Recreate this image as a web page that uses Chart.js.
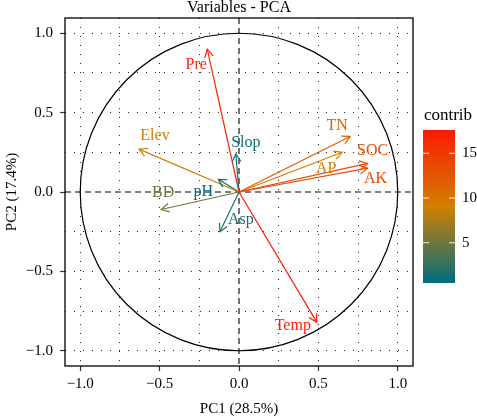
<!DOCTYPE html>
<html>
<head>
<meta charset="utf-8">
<script src="https://cdn.jsdelivr.net/npm/chart.js@4.4.0/dist/chart.umd.min.js"></script>
<style>
  body { margin: 0; background: #fff; }
  canvas { display: block; }
</style>
</head>
<body>
<canvas id="pcaChart" width="477" height="418"></canvas>
<script>
  // variable coordinates on the first two PCs
  const variables = ["Pre", "Elev", "BD", "pH", "Slop", "Asp", "TN", "AP", "SOC", "AK", "Temp"];
  const pc1 = [-0.20, -0.63, -0.49, -0.13, -0.02, -0.12, 0.70, 0.65, 0.81, 0.81, 0.49];
  const pc2 = [0.90, 0.27, -0.11, 0.08, 0.24, -0.25, 0.35, 0.25, 0.18, 0.15, -0.82];
  const contrib = [16.8, 9.3, 5.0, 0.5, 1.2, 1.5, 12.1, 9.6, 13.6, 13.5, 17.6];
  const axisTicks = [-1, -0.75, -0.5, -0.25, 0, 0.25, 0.5, 0.75, 1];
  const legendTicks = [5, 10, 15];

  const serif = "'Liberation Serif', 'DejaVu Serif', serif";
  const gradCols = [[0, 109, 128], [210, 127, 0], [255, 26, 0]];
  const cMin = Math.min(...contrib);
  const cMax = Math.max(...contrib);

  // label nudges in px from the arrow tip
  const labelNudge = {
    Pre: [-11, 16], Elev: [16, -13], BD: [2, -17], pH: [-15, 12], Slop: [10, -11],
    Asp: [21, -12], TN: [-13, -11], AP: [-16, 16], SOC: [5, -13], AK: [8, 11], Temp: [-24, 4]
  };

  function contribColor(v) {
    let t = (v - cMin) / (cMax - cMin);
    t = Math.max(0, Math.min(1, t));
    const seg = t < 0.5 ? 0 : 1;
    const f = seg === 0 ? t / 0.5 : (t - 0.5) / 0.5;
    const a = gradCols[seg], b = gradCols[seg + 1];
    const c = a.map((x, i) => Math.round(x + (b[i] - x) * f));
    return `rgb(${c[0]},${c[1]},${c[2]})`;
  }

  const isMajor = v => Math.abs(v * 2 - Math.round(v * 2)) < 1e-9;
  const fmt = v => (v < 0 ? "\u2212" : "") + Math.abs(v).toFixed(1);

  const datasets = variables.map((name, i) => ({
    label: name,
    data: [{ x: 0, y: 0 }, { x: pc1[i], y: pc2[i] }],
    showLine: true,
    borderColor: contribColor(contrib[i]),
    borderWidth: 1.2,
    pointRadius: 0,
    fill: false
  }));

  const pcaDecor = {
    id: "pcaDecor",
    beforeDatasetsDraw(chart) {
      const { ctx, chartArea: a, scales: { x, y } } = chart;
      ctx.save();
      // dashed zero lines
      ctx.strokeStyle = "#000";
      ctx.lineWidth = 1.1;
      ctx.setLineDash([6, 4]);
      ctx.beginPath();
      ctx.moveTo(a.left, y.getPixelForValue(0));
      ctx.lineTo(a.right, y.getPixelForValue(0));
      ctx.moveTo(x.getPixelForValue(0), a.top);
      ctx.lineTo(x.getPixelForValue(0), a.bottom);
      ctx.stroke();
      // correlation circle
      ctx.setLineDash([]);
      ctx.lineWidth = 1.2;
      const cx = x.getPixelForValue(0), cy = y.getPixelForValue(0);
      const rx = x.getPixelForValue(1) - cx, ry = cy - y.getPixelForValue(1);
      ctx.beginPath();
      ctx.ellipse(cx, cy, rx, ry, 0, 0, Math.PI * 2);
      ctx.stroke();
      ctx.restore();
    },
    afterDatasetsDraw(chart) {
      const { ctx, scales: { x, y } } = chart;
      const ox = x.getPixelForValue(0), oy = y.getPixelForValue(0);
      ctx.save();
      variables.forEach((name, i) => {
        const tx = x.getPixelForValue(pc1[i]), ty = y.getPixelForValue(pc2[i]);
        const ang = Math.atan2(ty - oy, tx - ox);
        const col = contribColor(contrib[i]);
        ctx.strokeStyle = col;
        ctx.lineWidth = 1.2;
        ctx.beginPath();
        ctx.moveTo(tx - 9 * Math.cos(ang - 0.5), ty - 9 * Math.sin(ang - 0.5));
        ctx.lineTo(tx, ty);
        ctx.lineTo(tx - 9 * Math.cos(ang + 0.5), ty - 9 * Math.sin(ang + 0.5));
        ctx.stroke();
        const n = labelNudge[name];
        ctx.fillStyle = col;
        ctx.font = `16px ${serif}`;
        ctx.textAlign = "center";
        ctx.textBaseline = "middle";
        ctx.fillText(name, tx + n[0], ty + n[1]);
      });
      ctx.restore();
    },
    afterDraw(chart) {
      const { ctx, chartArea: a } = chart;
      ctx.save();
      // panel frame
      ctx.strokeStyle = "#000";
      ctx.lineWidth = 1.3;
      ctx.strokeRect(a.left, a.top, a.right - a.left, a.bottom - a.top);
      // title
      ctx.fillStyle = "#000";
      ctx.font = `16px ${serif}`;
      ctx.textAlign = "center";
      ctx.textBaseline = "alphabetic";
      ctx.fillText("Variables - PCA", (a.left + a.right) / 2, 12);
      // colour bar legend
      const bx = 423, bw = 32, bTop = 130, bBot = 283;
      const g = ctx.createLinearGradient(0, bBot, 0, bTop);
      [0, 0.5, 1].forEach((s, k) => g.addColorStop(s, `rgb(${gradCols[k].join(",")})`));
      ctx.fillStyle = g;
      ctx.fillRect(bx, bTop, bw, bBot - bTop);
      ctx.font = `17px ${serif}`;
      ctx.fillStyle = "#000";
      ctx.fillText("contrib", bx + bw / 2 + 9, 120);
      ctx.font = `15px ${serif}`;
      ctx.textAlign = "left";
      ctx.textBaseline = "middle";
      legendTicks.forEach(v => {
        const py = bBot - (v - cMin) / (cMax - cMin) * (bBot - bTop);
        ctx.strokeStyle = "rgba(255,255,255,0.9)";
        ctx.lineWidth = 1;
        ctx.beginPath();
        ctx.moveTo(bx, py); ctx.lineTo(bx + 6, py);
        ctx.moveTo(bx + bw - 6, py); ctx.lineTo(bx + bw, py);
        ctx.stroke();
        ctx.fillText(String(v), bx + bw + 7, py);
      });
      ctx.restore();
    }
  };

  function axisOpts(titleText, isX) {
    return {
      type: "linear",
      min: -1.096,
      max: 1.096,
      afterBuildTicks: s => { s.ticks = axisTicks.map(v => ({ value: v })); },
      afterFit: s => { if (isX) s.height = 52; else s.width = 65; },
      grid: {
        color: c => (c.tick && c.tick.value === 0) ? "rgba(0,0,0,0)" : "#222",
        lineWidth: 1,
        tickLength: 5,
        tickWidth: 1.2,
        tickColor: c => (c.tick && isMajor(c.tick.value)) ? "#333" : "rgba(0,0,0,0)"
      },
      border: { display: false, dash: [1, 8] },
      ticks: {
        autoSkip: false,
        maxRotation: 0,
        padding: isX ? 4 : 7,
        color: "#000",
        font: { family: serif, size: 15 },
        callback: v => isMajor(v) ? fmt(v) : ""
      },
      title: {
        display: true,
        text: titleText,
        color: "#000",
        font: { family: serif, size: 15 },
        padding: isX ? { top: 0, bottom: 0 } : { top: 3, bottom: 0 }
      }
    };
  }

  new Chart(document.getElementById("pcaChart"), {
    type: "scatter",
    data: { datasets },
    options: {
      responsive: false,
      animation: false,
      devicePixelRatio: 1,
      layout: { padding: { left: 0, right: 64, top: 18, bottom: 0 } },
      plugins: { legend: { display: false }, tooltip: { enabled: false } },
      scales: {
        x: axisOpts("PC1 (28.5%)", true),
        y: axisOpts("PC2 (17.4%)", false)
      }
    },
    plugins: [pcaDecor]
  });
</script>
</body>
</html>
